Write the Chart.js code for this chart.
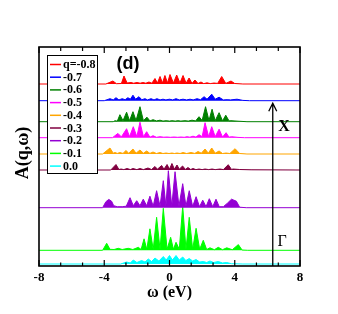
<!DOCTYPE html>
<html>
<head>
<meta charset="utf-8">
<script src="https://cdn.jsdelivr.net/npm/chart.js@4.4.1/dist/chart.umd.min.js"></script>
<style>
  body { margin: 0; background: #fff; }
  #box { width: 338px; height: 314px; }
</style>
</head>
<body>
<div id="box"><canvas id="myChart"></canvas></div>
<script>
// q values, colors and the vertical offset of each curve
const qLabels = ['q=-0.8', '-0.7', '-0.6', '-0.5', '-0.4', '-0.3', '-0.2', '-0.1', '0.0'];
const qColors = ['#ff0000', '#0000ff', '#008000', '#ff00ff', '#ffa500', '#800040', '#9400d3', '#00ff00', '#00ffff'];
const qOffsets = [182, 165.3, 144.3, 128.3, 112, 96, 58.3, 15.7, 2];

// spectra, [omega, A] pairs
const specM08 = [[-8,0],[-3.9,0],[-3.47,3],[-3.25,0.3],[-2.95,0.5],[-2.79,8],[-2.6,1],[-2.36,1.5],[-2.2,0.8],[-1.99,1.5],[-1.8,0.8],[-1.63,1.5],[-1.45,0.8],[-1.26,2],[-1.08,0.8],[-0.89,5.5],[-0.74,1],[-0.58,7.5],[-0.43,1],[-0.28,8.5],[-0.12,1],[0.03,9.5],[0.24,1],[0.44,9],[0.64,1],[0.83,8.5],[1.02,0.8],[1.2,6],[1.38,0.6],[1.56,4],[1.75,0.5],[1.93,2],[2.1,0.4],[2.3,1.2],[2.5,0.4],[2.73,1],[2.95,0.6],[3.2,7.5],[3.45,0.6],[3.77,3],[4.0,0.5],[4.5,0],[8,0]];
const specM07 = [[-8,0],[-4.0,0],[-3.65,2],[-3.45,0.8],[-3.28,3],[-3.1,0.8],[-2.9,2],[-2.72,1],[-2.55,3],[-2.4,1.5],[-2.24,5.5],[-2.08,1.5],[-1.87,4],[-1.7,1],[-1.5,2],[-1.35,0.8],[-1.13,2],[-0.95,0.8],[-0.77,2],[-0.58,0.8],[-0.4,1.5],[-0.22,0.8],[0.0,1.5],[0.2,0.8],[0.4,2],[0.6,0.8],[0.83,1.5],[1.05,0.8],[1.26,1.5],[1.45,0.8],[1.69,2],[1.9,1],[2.12,4],[2.3,1.5],[2.59,6.5],[2.8,1.5],[3.04,3.5],[3.3,0.8],[3.53,1],[3.75,0.8],[4.14,1.5],[4.5,0.3],[4.9,0],[8,0]];
const specM06 = [[-8,0],[-3.45,0],[-3.34,1],[-3.2,0.5],[-3.04,7],[-2.85,1],[-2.63,9.5],[-2.45,1],[-2.24,10],[-2.05,1.2],[-1.81,15],[-1.6,1],[-1.38,4.5],[-1.2,0.8],[-1.01,2],[-0.8,0.8],[-0.58,1.5],[-0.4,0.6],[-0.21,1],[0.0,0.6],[0.15,1],[0.35,0.6],[0.52,1],[0.7,0.6],[0.95,1],[1.15,0.6],[1.38,1.5],[1.6,0.8],[1.81,5],[2.0,1.2],[2.21,15],[2.42,1.2],[2.61,12.5],[2.8,1],[3.04,9],[3.25,0.8],[3.45,6.5],[3.65,0.8],[3.77,1],[4.2,0.5],[4.75,0],[8,0]];
const specM05 = [[-8,0],[-3.5,0],[-3.16,4.3],[-2.95,0.8],[-2.63,9],[-2.45,1],[-2.22,11],[-2.0,1],[-1.81,15.5],[-1.6,1],[-1.4,6],[-1.2,0.5],[-1.01,2],[-0.8,0.4],[-0.58,1],[-0.35,0.5],[-0.15,0.7],[0.05,0.4],[0.28,0.7],[0.5,0.4],[0.71,0.7],[0.9,0.4],[1.08,1],[1.25,0.5],[1.44,1.5],[1.62,0.6],[1.81,3],[2.0,1],[2.18,15],[2.4,1],[2.59,11],[2.8,1],[3.04,8.5],[3.25,0.6],[3.47,5],[3.65,0.5],[3.8,1],[4.2,0.3],[4.6,0],[8,0]];
const specM04 = [[-8,0],[-4.1,0],[-3.65,6],[-3.45,0.8],[-3.34,1.5],[-3.2,0.6],[-3.04,1.5],[-2.85,0.6],[-2.67,3.5],[-2.5,0.8],[-2.24,5],[-2.05,0.8],[-1.81,4],[-1.6,0.8],[-1.4,3],[-1.2,0.6],[-1.01,2],[-0.8,0.5],[-0.58,1.5],[-0.4,0.5],[-0.21,1],[-0.03,0.5],[0.15,1],[0.3,0.5],[0.46,1],[0.65,0.5],[0.83,1.5],[1.05,0.5],[1.32,1.5],[1.55,0.6],[1.75,2.5],[1.95,0.8],[2.18,5],[2.38,0.8],[2.59,6],[2.8,0.8],[3.04,3],[3.25,0.5],[3.47,1],[3.7,0.5],[4.02,5.3],[4.3,0.5],[4.75,0],[8,0]];
const specM03 = [[-8,0],[-3.6,0],[-3.28,5.5],[-3.1,0.5],[-2.97,1],[-2.8,0.4],[-2.6,1.5],[-2.4,0.4],[-2.24,1.5],[-2.0,0.4],[-1.81,1.5],[-1.6,0.4],[-1.32,2],[-1.1,0.5],[-0.89,3.5],[-0.74,0.8],[-0.48,4.5],[-0.34,0.8],[-0.15,5.5],[0.0,0.8],[0.15,6.5],[0.3,0.8],[0.46,5],[0.6,0.8],[0.8,4],[0.98,0.6],[1.13,2.5],[1.3,0.5],[1.44,1.5],[1.62,0.4],[1.81,1],[2.0,0.4],[2.18,1],[2.4,0.4],[2.61,1],[2.8,0.4],[3.1,1],[3.3,0.4],[3.6,5.3],[3.8,0.6],[3.9,1],[4.3,0.5],[5,0.2],[8,0]];
const specM02 = [[-8,0],[-4.1,0],[-3.9,6],[-3.72,8.3],[-3.55,6.5],[-3.42,2],[-3.2,1],[-2.9,1],[-2.65,1.5],[-2.42,10],[-2.22,2],[-2.01,7],[-1.81,2],[-1.61,8.5],[-1.4,2],[-1.2,11.5],[-1.0,1.5],[-0.79,17],[-0.58,1.5],[-0.38,27],[-0.22,1.5],[-0.07,37],[0.14,1.5],[0.34,36],[0.58,1.5],[0.81,24],[1.01,1.5],[1.21,17],[1.42,1.2],[1.63,11],[1.84,1],[2.04,7.5],[2.24,1],[2.44,9],[2.65,1],[2.85,8.5],[3.05,1],[3.3,1],[3.55,4.5],[3.8,8.5],[4.1,6.5],[4.3,0.5],[4.7,0],[8,0]];
const specM01 = [[-8,0],[-4.1,0],[-3.85,7],[-3.65,1],[-3.4,0.8],[-3.14,2],[-2.9,0.8],[-2.53,2],[-2.25,0.8],[-1.91,3],[-1.74,0.8],[-1.56,11.5],[-1.39,0.8],[-1.2,21.5],[-1.0,0.8],[-0.79,33],[-0.58,0.8],[-0.38,42],[-0.15,1],[0.07,13],[0.24,1],[0.4,8],[0.6,1],[0.81,44],[1.01,1],[1.21,33],[1.42,1],[1.63,22],[1.85,1],[2.07,10],[2.28,0.8],[2.48,2.5],[2.75,0.6],[2.99,3],[3.25,0.6],[3.51,2.5],[3.85,0.6],[4.22,5.7],[4.45,0.3],[4.8,0],[8,0]];
const specQ00 = [[-8,0],[-3.0,0],[-2.63,2],[-2.4,1],[-2.22,4],[-2.0,1.5],[-1.71,3.5],[-1.5,2],[-1.3,5],[-1.1,2.5],[-0.89,6],[-0.65,3],[-0.38,7.5],[-0.2,4],[0.0,8.5],[0.18,4],[0.4,8.5],[0.6,4],[0.81,7],[1.0,3.5],[1.21,5.5],[1.42,3],[1.63,4.5],[1.85,2],[2.07,2.5],[2.28,1.5],[2.48,3],[2.7,1.5],[2.99,2.5],[3.25,1],[3.5,1.5],[3.8,0.3],[4.5,0],[8,0]];
const spectra = [specM08, specM07, specM06, specM05, specM04, specM03, specM02, specM01, specQ00];

// axis ticks
const majorTicks = [-8, -4, 0, 4, 8];
const minorTicks = [-6.67, -5.33, -2.67, -1.33, 1.33, 2.67, 5.33, 6.67];

// arrow from Gamma to X
const arrowX = 6.33;
const arrowTop = 162.7;

const serif = 'Liberation Serif';

const datasets = spectra.map(function (spec, i) {
  return {
    label: qLabels[i],
    data: spec.map(p => ({ x: p[0], y: qOffsets[i] + p[1] })),
    borderColor: qColors[i],
    backgroundColor: qColors[i],
    borderWidth: 1,
    pointRadius: 0,
    tension: 0,
    fill: { value: qOffsets[i] },
  };
});

const decorPlugin = {
  id: 'decor',
  afterDraw: function (chart) {
    const ctx = chart.ctx;
    const a = chart.chartArea;
    const xs = chart.scales.x;
    const ys = chart.scales.y;
    ctx.save();

    // frame
    ctx.strokeStyle = '#000';
    ctx.lineWidth = 1.6;
    ctx.strokeRect(a.left, a.top, a.right - a.left, a.bottom - a.top);

    // inward ticks, top and bottom
    ctx.lineWidth = 1.2;
    ctx.beginPath();
    majorTicks.forEach(function (t) {
      const px = xs.getPixelForValue(t);
      ctx.moveTo(px, a.bottom); ctx.lineTo(px, a.bottom - 6);
      ctx.moveTo(px, a.top); ctx.lineTo(px, a.top + 6);
    });
    minorTicks.forEach(function (t) {
      const px = xs.getPixelForValue(t);
      ctx.moveTo(px, a.bottom); ctx.lineTo(px, a.bottom - 3.5);
      ctx.moveTo(px, a.top); ctx.lineTo(px, a.top + 4);
    });
    ctx.stroke();

    // arrow
    const ax = xs.getPixelForValue(arrowX);
    const ay = ys.getPixelForValue(arrowTop);
    ctx.lineWidth = 1.3;
    ctx.beginPath();
    ctx.moveTo(ax, a.bottom); ctx.lineTo(ax, ay);
    ctx.moveTo(ax - 4, ay + 8); ctx.lineTo(ax, ay); ctx.lineTo(ax + 4, ay + 8);
    ctx.stroke();

    ctx.fillStyle = '#000';
    ctx.textAlign = 'center';
    ctx.textBaseline = 'middle';
    ctx.font = 'bold 16px "' + serif + '"';
    ctx.fillText('X', xs.getPixelForValue(7.02), ys.getPixelForValue(139));
    ctx.font = '16px "' + serif + '"';
    ctx.fillText('Γ', xs.getPixelForValue(6.9), ys.getPixelForValue(24));

    // panel label
    ctx.font = 'bold 18px "Liberation Sans"';
    ctx.fillText('(d)', 128, 64);

    // y title
    ctx.save();
    ctx.translate(23, 153);
    ctx.rotate(-Math.PI / 2);
    ctx.font = 'bold 18px "' + serif + '"';
    ctx.fillText('A(q,ω)', 0, 0);
    ctx.restore();

    // legend box
    ctx.fillStyle = '#fff';
    ctx.fillRect(47, 55, 50, 118);
    ctx.strokeStyle = '#000';
    ctx.lineWidth = 1;
    ctx.strokeRect(47.5, 55.5, 50, 118);
    ctx.textAlign = 'left';
    ctx.font = 'bold 12px "' + serif + '"';
    qLabels.forEach(function (lab, i) {
      const y = 64.5 + i * 12.7;
      ctx.strokeStyle = qColors[i];
      ctx.lineWidth = 1.5;
      ctx.beginPath();
      ctx.moveTo(50, y); ctx.lineTo(61, y);
      ctx.stroke();
      ctx.fillStyle = '#000';
      ctx.fillText(lab, 63, y + 0.5);
    });
    ctx.restore();
  },
};

document.addEventListener('DOMContentLoaded', function () {
  const ctx = document.getElementById('myChart').getContext('2d');
  new Chart(ctx, {
    type: 'line',
    data: { datasets: datasets },
    options: {
      responsive: true,
      maintainAspectRatio: false,
      animation: false,
      layout: { padding: { left: 39, right: 38, top: 47, bottom: 0 } },
      plugins: { legend: { display: false }, tooltip: { enabled: false } },
      scales: {
        x: {
          type: 'linear',
          min: -8,
          max: 8,
          grid: { display: false, drawTicks: false },
          border: { display: false },
          ticks: {
            stepSize: 4,
            color: '#000',
            padding: 4,
            font: { family: serif, weight: 'bold', size: 13 },
          },
          title: {
            display: true,
            text: 'ω (eV)',
            color: '#000',
            font: { family: serif, weight: 'bold', size: 16 },
            padding: { top: 0, bottom: 12 },
          },
          afterFit: function (scale) { scale.height = 48; },
        },
        y: { display: false, min: 0, max: 219 },
      },
    },
    plugins: [decorPlugin],
  });
});
</script>
</body>
</html>
